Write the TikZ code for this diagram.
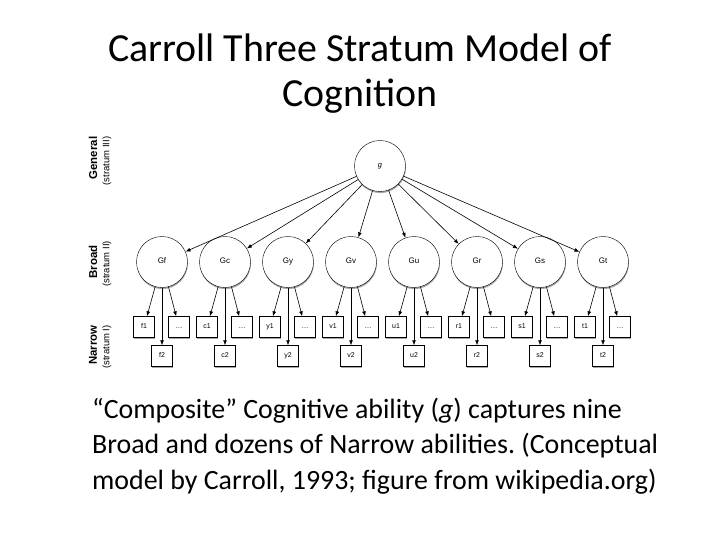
\documentclass[tikz,border=0pt]{standalone}
\usepackage{fontspec}
\setmainfont{Carlito}
\newfontfamily\helv{Liberation Sans}
\usetikzlibrary{arrows.meta,shadows}
\frenchspacing

\begin{document}
\begin{tikzpicture}[x=1bp, y=-1bp,
    shade/.style={drop shadow={shadow xshift=0.4bp, shadow yshift=-1.6bp, opacity=0.35, fill=black}},
    general/.style={circle, draw, fill=white, minimum size=51bp, inner sep=0pt, shade, font=\helv\itshape\fontsize{7.5}{8}\selectfont, text height=5bp, text depth=1.5bp},
    broad/.style={circle, draw, fill=white, minimum size=51bp, inner sep=0pt, shade, font=\helv\fontsize{8}{9}\selectfont, text height=5.5bp, text depth=1.5bp},
    narrow/.style={rectangle, draw, fill=white, minimum size=21bp, inner sep=0pt, shade, font=\helv\fontsize{7}{8}\selectfont, text height=5bp, text depth=1.5bp},
    level/.style={rotate=90, font=\helv\bfseries\fontsize{11.5}{13}\selectfont},
    stratum/.style={rotate=90, font=\helv\fontsize{9.5}{11}\selectfont},
    arrow/.style={-{Latex[length=5bp,width=3.8bp]}, line width=0.6pt}
]
\useasboundingbox (0,0) rectangle (720,540);

% Title
\node[align=center, font=\fontsize{40}{45}\selectfont, anchor=north] (title) at (360,30) {Carroll Three Stratum Model of\\Cognition};

% Stratum labels on the left
\node[level] (genlab) at (93,158) {General};
\node[stratum] (genstr) at (107,161) {(stratum III)};
\node[level] (brdlab) at (93,262) {Broad};
\node[stratum] (brdstr) at (107,264) {(stratum II)};
\node[level] (narlab) at (93,345) {Narrow};
\node[stratum] (narstr) at (107,347) {(stratum I)};

% General ability
\node[general] (g) at (380,166) {g};

% Broad abilities
\node[broad] (Gf) at (162,262) {Gf};
\node[broad] (Gc) at (225,262) {Gc};
\node[broad] (Gy) at (288,262) {Gy};
\node[broad] (Gv) at (351,262) {Gv};
\node[broad] (Gu) at (414,262) {Gu};
\node[broad] (Gr) at (477,262) {Gr};
\node[broad] (Gs) at (540,262) {Gs};
\node[broad] (Gt) at (603,262) {Gt};

% Narrow abilities, upper row
\node[narrow] (f1) at (144,327) {f1};
\node[narrow] (fx) at (179,327) {\dots};
\node[narrow] (c1) at (207,327) {c1};
\node[narrow] (cx) at (242,327) {\dots};
\node[narrow] (y1) at (270,327) {y1};
\node[narrow] (yx) at (305,327) {\dots};
\node[narrow] (v1) at (333,327) {v1};
\node[narrow] (vx) at (368,327) {\dots};
\node[narrow] (u1) at (396,327) {u1};
\node[narrow] (ux) at (431,327) {\dots};
\node[narrow] (r1) at (459,327) {r1};
\node[narrow] (rx) at (494,327) {\dots};
\node[narrow] (s1) at (522,327) {s1};
\node[narrow] (sx) at (557,327) {\dots};
\node[narrow] (t1) at (585,327) {t1};
\node[narrow] (tx) at (620,327) {\dots};

% Narrow abilities, lower row
\node[narrow] (f2) at (162,356) {f2};
\node[narrow] (c2) at (225,356) {c2};
\node[narrow] (y2) at (288,356) {y2};
\node[narrow] (v2) at (351,356) {v2};
\node[narrow] (u2) at (414,356) {u2};
\node[narrow] (r2) at (477,356) {r2};
\node[narrow] (s2) at (540,356) {s2};
\node[narrow] (t2) at (603,356) {t2};

% Arrows from g
\draw[arrow] (g) -- (Gf);
\draw[arrow] (g) -- (Gc);
\draw[arrow] (g) -- (Gy);
\draw[arrow] (g) -- (Gv);
\draw[arrow] (g) -- (Gu);
\draw[arrow] (g) -- (Gr);
\draw[arrow] (g) -- (Gs);
\draw[arrow] (g) -- (Gt);

% Arrows to narrow abilities
\draw[arrow] (Gf) -- (f1); \draw[arrow] (Gf) -- (f2); \draw[arrow] (Gf) -- (fx);
\draw[arrow] (Gc) -- (c1); \draw[arrow] (Gc) -- (c2); \draw[arrow] (Gc) -- (cx);
\draw[arrow] (Gy) -- (y1); \draw[arrow] (Gy) -- (y2); \draw[arrow] (Gy) -- (yx);
\draw[arrow] (Gv) -- (v1); \draw[arrow] (Gv) -- (v2); \draw[arrow] (Gv) -- (vx);
\draw[arrow] (Gu) -- (u1); \draw[arrow] (Gu) -- (u2); \draw[arrow] (Gu) -- (ux);
\draw[arrow] (Gr) -- (r1); \draw[arrow] (Gr) -- (r2); \draw[arrow] (Gr) -- (rx);
\draw[arrow] (Gs) -- (s1); \draw[arrow] (Gs) -- (s2); \draw[arrow] (Gs) -- (sx);
\draw[arrow] (Gt) -- (t1); \draw[arrow] (Gt) -- (t2); \draw[arrow] (Gt) -- (tx);

% Caption
\node[align=left, font=\fontsize{28}{35.5}\selectfont, anchor=north west, inner sep=0pt] (caption) at (92,398) {``Composite'' Cognitive ability (\textit{g}) captures nine\\Broad and dozens of Narrow abilities. (Conceptual\\model by Carroll, 1993; figure from wikipedia.org)};
\end{tikzpicture}
\end{document}
